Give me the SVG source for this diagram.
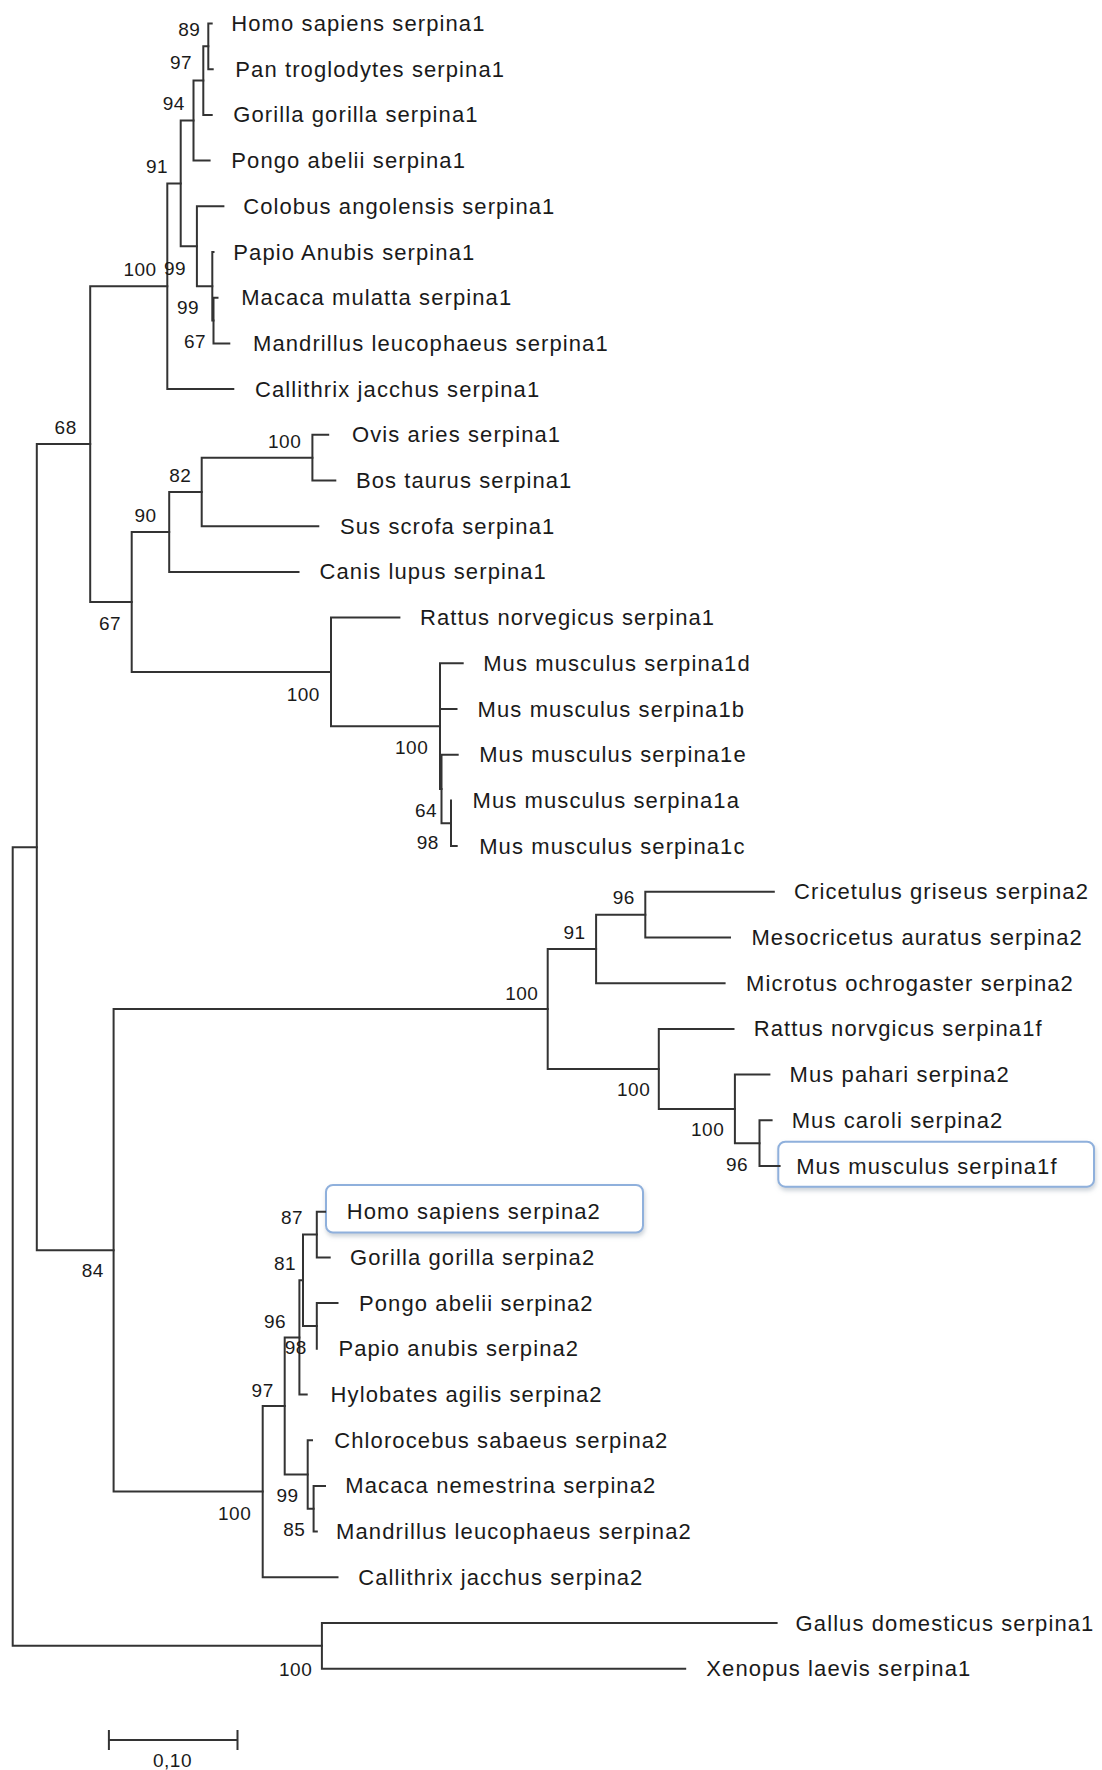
<svg xmlns="http://www.w3.org/2000/svg" width="1102" height="1770" viewBox="0 0 1102 1770">
<style>
.br{fill:none;stroke:#333;stroke-width:2;stroke-linecap:square}
.lf{font-family:"Liberation Sans",Arial,sans-serif;font-size:22px;letter-spacing:1.1px;fill:#1a1a1a}
.bs{font-family:"Liberation Sans",Arial,sans-serif;font-size:19px;letter-spacing:0.5px;fill:#1a1a1a}
.hl{fill:#fff;stroke:#8fb0dc;stroke-width:2}
</style>
<defs>
<filter id="sh" x="-10%" y="-30%" width="120%" height="170%">
<feDropShadow dx="1" dy="3" stdDeviation="2" flood-color="#9aa6b4" flood-opacity="0.5"/>
</filter>
</defs>
<rect width="1102" height="1770" fill="#fff"/>
<g id="highlights">
<rect class="hl" x="326" y="1185" width="317" height="47.5" rx="7" filter="url(#sh)"/>
<rect class="hl" x="778.3" y="1141.7" width="315.7" height="45" rx="7" filter="url(#sh)"/>
</g>
<g id="connectors" class="br">
<path d="M208.3 23.5V69.2M208.3 23.5H211.7M208.3 69.2H212.7"/>
<path d="M203.3 46.35V114.9M203.3 46.35H208.3M203.3 114.9H211.7"/>
<path d="M193.5 80.6V160.6M193.5 80.6H203.3M193.5 160.6H209.6"/>
<path d="M213.5 297.7V343.4M213.5 297.7H217.5M213.5 343.4H229.3"/>
<path d="M212.3 252V320.55M212.3 252H213.5M212.3 320.55H213.5"/>
<path d="M196.9 206.3V286.3M196.9 206.3H223.4M196.9 286.3H212.3"/>
<path d="M180.7 120.6V246.3M180.7 120.6H193.5M180.7 246.3H196.9"/>
<path d="M167.3 183.45V389.1M167.3 183.45H180.7M167.3 389.1H233.3"/>
<path d="M312.4 434.8V480.5M312.4 434.8H328.2M312.4 480.5H335.3"/>
<path d="M201.7 457.65V526.2M201.7 457.65H312.4M201.7 526.2H318.3"/>
<path d="M169.2 491.9V571.9M169.2 491.9H201.7M169.2 571.9H298.5"/>
<path d="M451 800.4V846.1M451 846.1H456.7"/>
<path d="M441.5 754.7V823.25M441.5 754.7H457.7M441.5 823.25H451"/>
<path d="M440 663.3V789M440 663.3H462.7M440 709H456.5M440 789H441.5"/>
<path d="M331 617.6V726.15M331 617.6H399.4M331 726.15H440"/>
<path d="M131.7 531.9V671.9M131.7 531.9H169.2M131.7 671.9H331"/>
<path d="M90.2 286.3V601.9M90.2 286.3H167.3M90.2 601.9H131.7"/>
<path d="M645.3 891.8V937.5M645.3 891.8H773.8M645.3 937.5H730"/>
<path d="M596.1 914.65V983.2M596.1 914.65H645.3M596.1 983.2H724.6"/>
<path d="M759.5 1120.3V1166M759.5 1120.3H771.6M759.5 1166H779.6"/>
<path d="M734.9 1074.6V1143.15M734.9 1074.6H769.4M734.9 1143.15H759.5"/>
<path d="M658.8 1028.9V1108.9M658.8 1028.9H733.5M658.8 1108.9H734.9"/>
<path d="M547.7 948.9V1068.9M547.7 948.9H596.1M547.7 1068.9H658.8"/>
<path d="M316.8 1211.7V1257.4M316.8 1211.7H325.1M316.8 1257.4H329.7"/>
<path d="M316.8 1303.1V1348.8M316.8 1303.1H337.5"/>
<path d="M303 1234.55V1325.95M303 1234.55H316.8M303 1325.95H316.8"/>
<path d="M299.4 1280.25V1394.5M299.4 1280.25H303M299.4 1394.5H306.7"/>
<path d="M313.6 1485.9V1531.6M313.6 1485.9H325M313.6 1531.6H316.8"/>
<path d="M307.7 1440.2V1508.75M307.7 1440.2H312M307.7 1508.75H313.6"/>
<path d="M284.7 1337.4V1474.5M284.7 1337.4H299.4M284.7 1474.5H307.7"/>
<path d="M262.7 1405.95V1577.3M262.7 1405.95H284.7M262.7 1577.3H337.5"/>
<path d="M113.6 1008.9V1491.6M113.6 1008.9H547.7M113.6 1491.6H262.7"/>
<path d="M36.8 444.1V1250.25M36.8 444.1H90.2M36.8 1250.25H113.6"/>
<path d="M321.9 1623V1668.7M321.9 1623H776.6M321.9 1668.7H685.2"/>
<path d="M12.7 847.2V1645.85M12.7 847.2H36.8M12.7 1645.85H321.9"/>
</g>
<g id="leaves" class="lf">
<g id="n0"><text x="231.3" y="31">Homo sapiens serpina1</text></g>
<g id="n1"><text x="235.3" y="76.7">Pan troglodytes serpina1</text></g>
<g id="n2"><text x="233.3" y="122.4">Gorilla gorilla serpina1</text></g>
<g id="n3"><text x="231.3" y="168.1">Pongo abelii serpina1</text></g>
<g id="n4"><text x="243.2" y="213.8">Colobus angolensis serpina1</text></g>
<g id="n5"><text x="233.3" y="259.5">Papio Anubis serpina1</text></g>
<g id="n6"><text x="241.2" y="305.2">Macaca mulatta serpina1</text></g>
<g id="n7"><text x="253" y="350.9">Mandrillus leucophaeus serpina1</text></g>
<g id="n8"><text x="255" y="396.6">Callithrix jacchus serpina1</text></g>
<g id="n9"><text x="352" y="442.3">Ovis aries serpina1</text></g>
<g id="n10"><text x="355.9" y="488">Bos taurus serpina1</text></g>
<g id="n11"><text x="340" y="533.7">Sus scrofa serpina1</text></g>
<g id="n12"><text x="319.5" y="579.4">Canis lupus serpina1</text></g>
<g id="n13"><text x="420" y="625.1">Rattus norvegicus serpina1</text></g>
<g id="n14"><text x="483.2" y="670.8">Mus musculus serpina1d</text></g>
<g id="n15"><text x="477.6" y="716.5">Mus musculus serpina1b</text></g>
<g id="n16"><text x="479.2" y="762.2">Mus musculus serpina1e</text></g>
<g id="n17"><text x="472.5" y="807.9">Mus musculus serpina1a</text></g>
<g id="n18"><text x="479.2" y="853.6">Mus musculus serpina1c</text></g>
<g id="n19"><text x="794" y="899.3">Cricetulus griseus serpina2</text></g>
<g id="n20"><text x="751.4" y="945">Mesocricetus auratus serpina2</text></g>
<g id="n21"><text x="746.1" y="990.7">Microtus ochrogaster serpina2</text></g>
<g id="n22"><text x="753.7" y="1036.4">Rattus norvgicus serpina1f</text></g>
<g id="n23"><text x="789.5" y="1082.1">Mus pahari serpina2</text></g>
<g id="n24"><text x="791.7" y="1127.8">Mus caroli serpina2</text></g>
<g id="n25"><text x="796.2" y="1173.5">Mus musculus serpina1f</text></g>
<g id="n26"><text x="346.7" y="1219.2">Homo sapiens serpina2</text></g>
<g id="n27"><text x="350" y="1264.9">Gorilla gorilla serpina2</text></g>
<g id="n28"><text x="359" y="1310.6">Pongo abelii serpina2</text></g>
<g id="n29"><text x="338.4" y="1356.3">Papio anubis serpina2</text></g>
<g id="n30"><text x="330.6" y="1402">Hylobates agilis serpina2</text></g>
<g id="n31"><text x="334.3" y="1447.7">Chlorocebus sabaeus serpina2</text></g>
<g id="n32"><text x="345.3" y="1493.4">Macaca nemestrina serpina2</text></g>
<g id="n33"><text x="336.1" y="1539.1">Mandrillus leucophaeus serpina2</text></g>
<g id="n34"><text x="358.2" y="1584.8">Callithrix jacchus serpina2</text></g>
<g id="n35"><text x="795.6" y="1630.5">Gallus domesticus serpina1</text></g>
<g id="n36"><text x="706.3" y="1676.2">Xenopus laevis serpina1</text></g>
</g>
<g id="bootstrap" class="bs">
<text x="178.3" y="36">89</text>
<text x="170" y="69">97</text>
<text x="162.7" y="110">94</text>
<text x="146" y="173">91</text>
<text x="123.4" y="276">100</text>
<text x="164" y="275">99</text>
<text x="177" y="314">99</text>
<text x="183.9" y="348">67</text>
<text x="54.6" y="434">68</text>
<text x="268" y="448">100</text>
<text x="169.2" y="482">82</text>
<text x="134.4" y="522">90</text>
<text x="98.9" y="630">67</text>
<text x="286.7" y="701">100</text>
<text x="395" y="754">100</text>
<text x="415" y="817">64</text>
<text x="416.7" y="849">98</text>
<text x="612.7" y="904">96</text>
<text x="563.4" y="939">91</text>
<text x="505.2" y="1000">100</text>
<text x="617" y="1096">100</text>
<text x="691" y="1136">100</text>
<text x="726" y="1171">96</text>
<text x="281" y="1224">87</text>
<text x="274" y="1270">81</text>
<text x="264" y="1328">96</text>
<text x="284.7" y="1354">98</text>
<text x="251.6" y="1397">97</text>
<text x="276.4" y="1502">99</text>
<text x="283.3" y="1536">85</text>
<text x="218" y="1520">100</text>
<text x="81.7" y="1277">84</text>
<text x="279" y="1676">100</text>
</g>
<g id="scalebar">
<path class="br" d="M108.9 1740H237.5M108.9 1731V1749M237.5 1731V1749"/>
<text class="bs" x="153" y="1767">0,10</text>
</g>
</svg>
